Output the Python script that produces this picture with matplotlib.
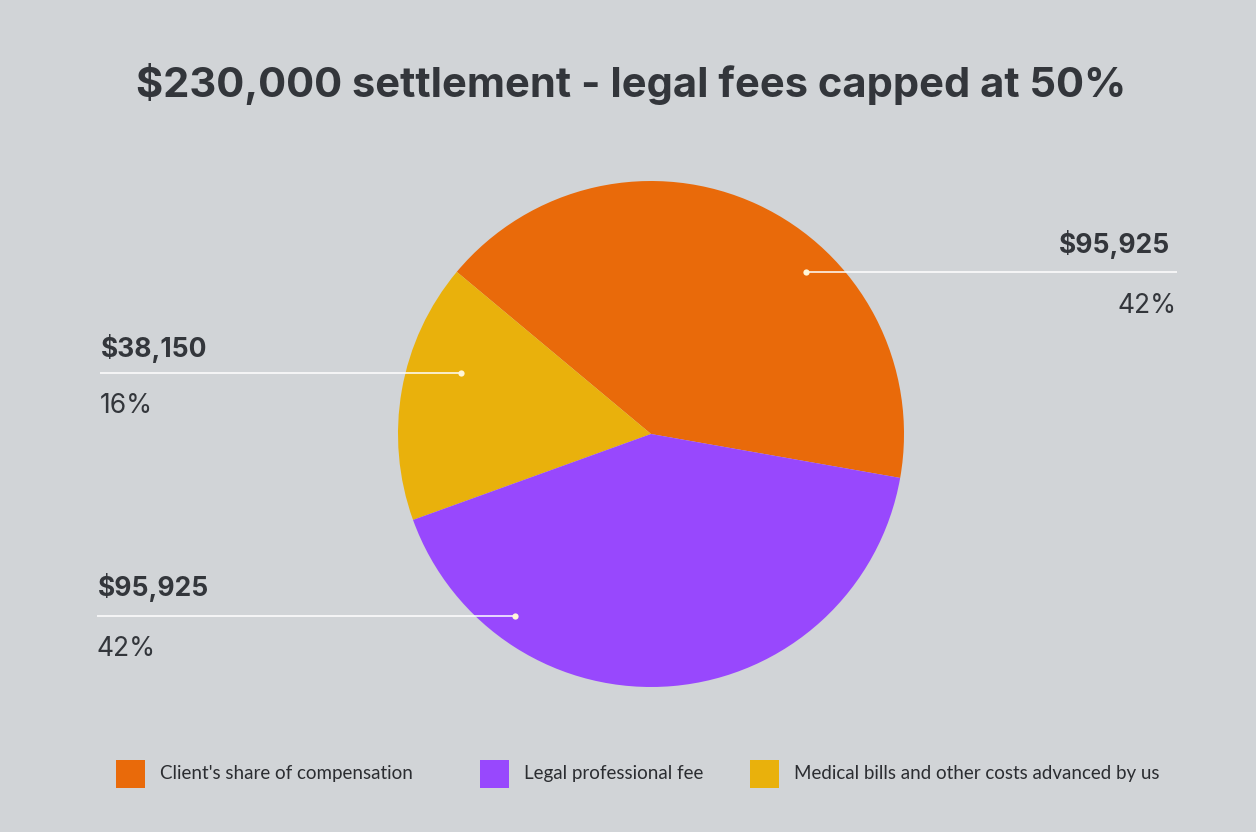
import matplotlib
matplotlib.use("Agg")
import matplotlib.pyplot as plt
from matplotlib.patches import Rectangle

# ---------------- data ----------------
title = "$230,000 settlement - legal fees capped at 50%"
categories = ["Client's share of compensation",
              "Medical bills and other costs advanced by us",
              "Legal professional fee"]
values = [95925, 38150, 95925]
value_labels = ["$95,925", "$38,150", "$95,925"]
pct_labels = ["42%", "16%", "42%"]
legend_order = [0, 2, 1]

# ---------------- style / layout ----------------
W, H = 1256, 832
BG = "#D1D4D7"
TXT = "#33363B"
colors = ["#E96A0A", "#E9B10C", "#9848FD"]
FONT = "Lato"
HFONT = "Inter"

fig = plt.figure(figsize=(W / 100, H / 100), dpi=100)
fig.patch.set_facecolor(BG)
ax = fig.add_axes([0, 0, 1, 1])
ax.set_facecolor(BG)

# pie (y axis inverted -> mirror angles)
cx, cy, R = 651, 434, 253
ax.pie(values, colors=colors, center=(cx, cy), radius=R, startangle=10,
       counterclock=False, wedgeprops=dict(linewidth=0))
ax.set_xlim(0, W)
ax.set_ylim(H, 0)
ax.set_aspect("equal")
ax.axis("off")

# title
ax.text(631, 84, title, ha="center", va="center", fontsize=30,
        fontweight="bold", color=TXT, family=HFONT)

# annotation layout: (dot_x, dot_y, line_end_x, side)
ann = [
    (806, 272, 1177, "right"),
    (461, 373, 100, "left"),
    (515, 616, 97, "left"),
]
value_base = [253, 357, 596]
pct_base = [313, 413, 656]
for i, (dx, dy, lx, side) in enumerate(ann):
    ax.plot([dx, lx], [dy, dy], color="white", lw=1.1, solid_capstyle="butt", zorder=3)
    ax.plot([dx], [dy], marker="o", ms=4.5, color="#FFF6D8", mec="none", zorder=4)
    if side == "right":
        tx = lx - 7
        ha = "right"
    else:
        tx = lx + 1
        ha = "left"
    ax.text(tx, value_base[i], value_labels[i], ha=ha, va="baseline",
            fontsize=19, fontweight="bold", color=TXT, family=HFONT)
    ax.text(lx, pct_base[i], pct_labels[i], ha=ha, va="baseline",
            fontsize=19, fontweight="normal", color=TXT, family=HFONT)

# legend
leg_x = [116, 480, 750]
for k, idx in enumerate(legend_order):
    x0 = leg_x[k]
    ax.add_patch(Rectangle((x0, 760), 29, 28, facecolor=colors[idx],
                           edgecolor="none", zorder=3))
    ax.text(x0 + 44, 774, categories[idx], ha="left", va="center",
            fontsize=13.5, color="#2B2D31", family=FONT)

fig.savefig("out.png", dpi=100, facecolor=BG)
